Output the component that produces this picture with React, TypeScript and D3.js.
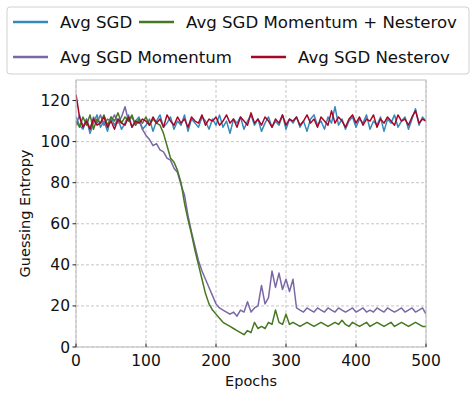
import React from "react";
import * as d3 from "d3";

const epochs: number[] = d3.range(0, 501, 5);

const sgd: number[] = [112,108,106,111,104,109,113,107,110,105,112,108,111,106,109,113,107,110,112,106,
108,111,105,110,113,107,109,112,106,110,108,113,105,111,109,107,112,110,106,111,
108,113,107,110,104,111,109,112,106,110,113,108,111,105,109,112,107,110,108,113,
106,111,109,112,107,110,105,111,113,108,110,106,112,109,117,108,111,106,110,112,
107,111,109,113,106,110,108,112,105,111,109,113,107,110,112,106,111,116,108,112,110];

const nesterov: number[] = [123,112,107,110,106,111,108,109,112,107,110,106,111,109,108,112,107,110,109,111,
110,108,112,109,111,107,113,110,108,112,109,111,107,112,110,109,113,108,111,110,
112,108,110,113,109,111,107,112,110,108,114,109,111,108,112,110,107,111,109,113,
108,111,110,112,108,110,113,109,111,107,112,110,108,115,109,112,110,107,111,113,
109,112,108,111,110,113,107,111,109,112,110,108,113,110,111,108,112,115,109,111,110];

const momentum: number[] = [108,113,107,111,106,112,109,113,108,111,110,113,109,112,117,110,112,108,110,106,
103,101,98,99,96,95,92,91,87,85,79,74,64,56,49,42,37,33,29,25,
21,19,18,17,16,17,15,18,17,22,17,19,20,30,21,24,37,29,36,28,
33,27,33,19,18,17,19,18,17,19,18,17,19,18,17,19,18,17,18,19,
17,18,19,17,18,17,19,18,17,19,18,17,18,19,17,18,19,17,18,19,16];

const momentumNesterov: number[] = [110,107,112,108,113,106,111,109,113,108,112,110,114,109,112,110,113,108,111,109,
112,108,111,109,108,104,98,92,90,86,80,70,62,55,47,40,33,26,21,18,
16,14,12,11,10,9,8,7,6,8,7,12,9,10,9,12,11,18,12,11,
16,11,12,11,10,11,12,11,10,11,12,11,10,11,12,11,13,11,10,12,
11,10,11,12,10,11,12,11,10,11,12,10,11,12,11,10,11,12,11,10,10];

const xTicks = [0, 100, 200, 300, 400, 500];
const yTicks = [0, 20, 40, 60, 80, 100, 120];

const series = [
  { name: "Avg SGD", values: sgd, color: "#348ABD" },
  { name: "Avg SGD Momentum", values: momentum, color: "#7A68A6" },
  { name: "Avg SGD Nesterov", values: nesterov, color: "#A60628" },
  { name: "Avg SGD Momentum + Nesterov", values: momentumNesterov, color: "#467821" },
];

const legendItems = [
  { name: "Avg SGD", color: "#348ABD", x: 13, y: 22 },
  { name: "Avg SGD Momentum + Nesterov", color: "#467821", x: 139, y: 22 },
  { name: "Avg SGD Momentum", color: "#7A68A6", x: 13, y: 57 },
  { name: "Avg SGD Nesterov", color: "#A60628", x: 251, y: 57 },
];

export default function App() {
  const W = 476, H = 393;
  const left = 76, right = 426, top = 80, bottom = 347;
  const x = d3.scaleLinear().domain([0, 500]).range([left, right]);
  const y = d3.scaleLinear().domain([0, 130]).range([bottom, top]);
  const line = (vals: number[]) =>
    d3.line<number>().x((_, i) => x(epochs[i])).y((d) => y(d))(vals) || "";
  const font = "DejaVu Sans, sans-serif";
  const drawOrder = [series[0], series[1], series[3], series[2]];
  return (
    <svg width={W} height={H} style={{ position: "absolute", left: 0, top: 0, background: "#fff" }} fontFamily={font}>
      <rect x={0} y={0} width={W} height={H} fill="#fff" />
      {xTicks.map((t) => (
        <line key={"gx" + t} x1={x(t)} x2={x(t)} y1={top} y2={bottom} stroke="#b8b8b8" strokeWidth={0.8} strokeDasharray="3,2" />
      ))}
      {yTicks.map((t) => (
        <line key={"gy" + t} x1={left} x2={right} y1={y(t)} y2={y(t)} stroke="#b8b8b8" strokeWidth={0.8} strokeDasharray="3,2" />
      ))}
      <defs>
        <clipPath id="clip">
          <rect x={left} y={top} width={right - left} height={bottom - top} />
        </clipPath>
      </defs>
      <g clipPath="url(#clip)">
        {drawOrder.map((s) => (
          <path key={s.name} d={line(s.values)} fill="none" stroke={s.color} strokeWidth={1.5} strokeLinejoin="round" />
        ))}
      </g>
      <rect x={left} y={top} width={right - left} height={bottom - top} fill="none" stroke="#bcbcbc" strokeWidth={1} />
      {xTicks.map((t) => (
        <g key={"tx" + t}>
          <line x1={x(t)} x2={x(t)} y1={bottom} y2={bottom - 3.5} stroke="#222" strokeWidth={1} />
          <text x={x(t)} y={366} textAnchor="middle" fontSize={15.5} fill="#111">{t}</text>
        </g>
      ))}
      {yTicks.map((t) => (
        <g key={"ty" + t}>
          <line x1={left} x2={left - 3.5} y1={y(t)} y2={y(t)} stroke="#222" strokeWidth={1} />
          <text x={70} y={y(t) + 5.5} textAnchor="end" fontSize={15.5} fill="#111">{t}</text>
        </g>
      ))}
      <text x={(left + right) / 2} y={386} textAnchor="middle" fontSize={14.5} fill="#111">Epochs</text>
      <text transform={`translate(30,${(top + bottom) / 2}) rotate(-90)`} textAnchor="middle" fontSize={14.5} fill="#111">Guessing Entropy</text>
      <rect x={7} y={7} width={462} height={67} rx={3} fill="#fff" stroke="#d0d0d0" strokeWidth={1} />
      {legendItems.map((it) => (
        <g key={it.name}>
          <line x1={it.x} x2={it.x + 35} y1={it.y} y2={it.y} stroke={it.color} strokeWidth={2.5} />
          <text x={it.x + 47} y={it.y + 6} fontSize={16.6} fill="#111">{it.name}</text>
        </g>
      ))}
    </svg>
  );
}
